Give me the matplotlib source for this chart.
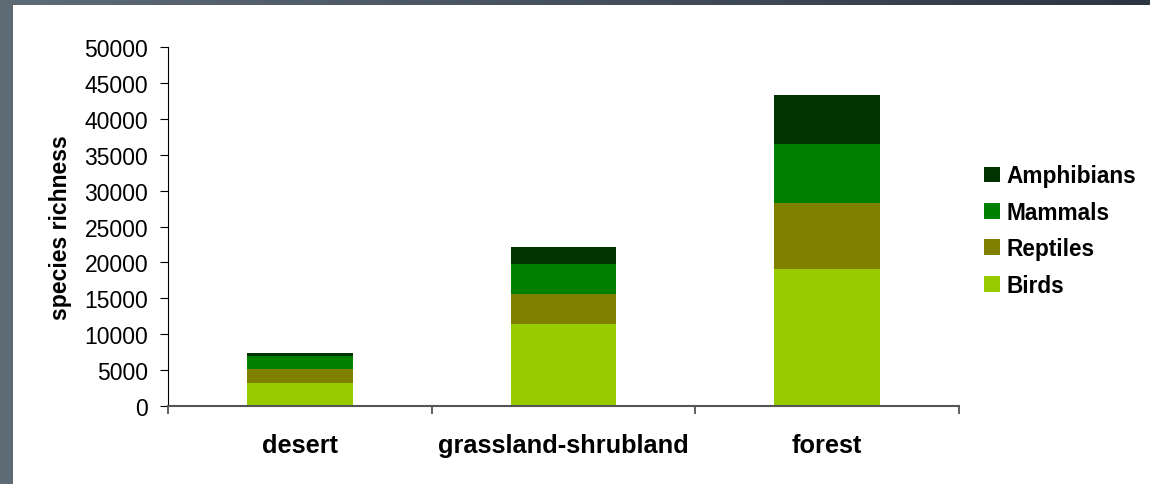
import numpy as np
import matplotlib
matplotlib.use('Agg')
import matplotlib.pyplot as plt
from matplotlib.colors import LinearSegmentedColormap

plt.rcParams['font.family'] = ['Liberation Sans', 'DejaVu Sans']

# data
habitats = ['desert', 'grassland-shrubland', 'forest']
birds = [3210, 11400, 19070]
reptiles = [1910, 4190, 9210]
mammals = [1860, 4180, 8230]
amphibians = [420, 2420, 6880]

series = [('Birds', birds, '#99cc00'),
          ('Reptiles', reptiles, '#808000'),
          ('Mammals', mammals, '#008000'),
          ('Amphibians', amphibians, '#003300')]

fig = plt.figure(figsize=(11.5, 4.85), dpi=100)
fig.patch.set_facecolor('white')

# dark slide frame on left and top
left_strip = fig.add_axes([0, 0, 13 / 1150, 1])
left_strip.set_axis_off()
left_strip.add_patch(plt.Rectangle((0, 0), 1, 1, color='#5e6a74'))
top_strip = fig.add_axes([0, 1 - 6 / 485, 1, 6 / 485])
grad = LinearSegmentedColormap.from_list('g', ['#5f6b75', '#2b3641'])
top_strip.imshow(np.linspace(0, 1, 256)[None, :], aspect='auto', cmap=grad)
top_strip.set_axis_off()

ax = fig.add_axes([0.1461, 0.1614, 0.6878, 0.7388])

x = np.arange(len(habitats))
bottom = np.zeros(len(habitats))
handles = []
for name, vals, col in series:
    b = ax.bar(x, vals, width=0.4, bottom=bottom, color=col, label=name)
    bottom += np.array(vals)
    handles.append(b)

ax.set_xlim(-0.5, 2.5)
ax.set_ylim(0, 50000)
ax.set_yticks(np.arange(0, 50001, 5000))
ax.tick_params(axis='y', labelsize=16.5, length=5.8, direction='out', pad=8.6, colors='black')
ax.set_xticks(x)
ax.set_xticklabels(habitats, fontsize=18.3, fontweight='bold')
ax.tick_params(axis='x', which='major', length=0, pad=20)
ax.set_xticks([-0.5, 0.5, 1.5, 2.5], minor=True)
ax.tick_params(axis='x', which='minor', length=5.5, width=1.3, color='#555555')

ax.spines['top'].set_visible(False)
ax.spines['right'].set_visible(False)
ax.spines['bottom'].set_color('#555555')
ax.spines['bottom'].set_linewidth(1.5)
ax.spines['left'].set_color('black')

ax.set_ylabel('species richness', fontsize=16.6, fontweight='bold')
ax.yaxis.set_label_coords(-0.121, 0.5)

ax.legend(handles[::-1], [s[0] for s in series][::-1],
          loc='center left', bbox_to_anchor=(1.02, 0.489), frameon=False,
          prop={'size': 16.3, 'weight': 'bold'},
          handlelength=0.7, handleheight=0.7, handletextpad=0.3,
          labelspacing=0.59, borderaxespad=0)

fig.savefig('out.png', dpi=100)
